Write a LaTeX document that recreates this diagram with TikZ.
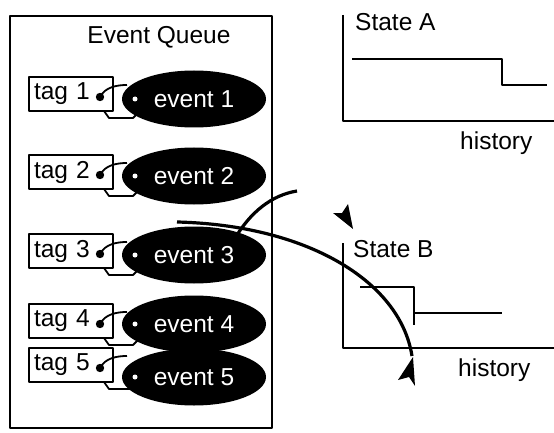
\documentclass[tikz,border=0pt]{standalone}
\usepackage{fontspec}
\setmainfont{Liberation Sans}
\usetikzlibrary{shapes.geometric,calc}
\begin{document}
\begin{tikzpicture}[x=1pt,y=-1pt,line join=round,
  every node/.style={font=\fontsize{24.5}{29}\selectfont},
  tagbox/.style={draw,line width=2pt,rectangle,minimum width=84pt,minimum height=34pt,
    text width=74pt,inner xsep=5pt,inner ysep=0pt,align=left},
  evt/.style={ellipse,fill=black,text=white,minimum width=144pt,minimum height=57pt,inner sep=0pt},
  lbl/.style={inner sep=0pt,anchor=west},
  string/.style={line width=1.8pt},
  bigarc/.style={line width=3.2pt},
  axis/.style={line width=2.4pt},
  stepline/.style={line width=2.2pt},
  frame/.style={line width=2pt},
  tip/.style={fill=black}]
\useasboundingbox (0,0) rectangle (554,433);
% event queue frame
\draw[frame] (10,16) rectangle (272,428);
\node[inner sep=0pt] (title) at (159,37) {Event Queue};
% second arc (behind ellipse 3)
\coordinate (arcBstart) at (297,191);
% rows: tag centre / ellipse centre
\foreach \i/\y/\ey in {1/94/99,2/172/176,3/251/255,4/321/324,5/365/377}{
  \node[tagbox,anchor=west] (t\i) at (28,\y) {tag \i};
  \coordinate (d\i) at (100,\y+3);
  \coordinate (p\i a) at (104,\y+17);
  \coordinate (p\i b) at (109,\y+24);
  \coordinate (p\i c) at (133,\y+24);
  \coordinate (p\i d) at (141,\y+16);
  \coordinate (q\i) at (127,\y-9);
  \coordinate (w\i) at (135,\ey);
}
\foreach \i in {1,...,5}{
  \draw[string] (d\i) .. controls ($(d\i)+(5,-10)$) and ($(q\i)+(-10,0)$) .. (q\i);
  \draw[string] (p\i a) -- (p\i b) -- (p\i c) -- (p\i d);
}
\draw[bigarc] (arcBstart) .. controls (272,195) and (250,212) .. (234,240);
\foreach \i/\ey in {1/99,2/176,3/255,4/324,5/377}{
  \node[evt] (e\i) at (194,\ey) {event \i};
}
\foreach \i in {1,...,5}{
  \fill[white] (w\i) circle (2.5);
  \fill (d\i) circle (4.2);
}
% state A
\coordinate (Atop) at (343,15);
\coordinate (Aorig) at (343,121);
\coordinate (Aend) at (554,121);
\draw[axis] (Atop) -- (Aorig) -- (Aend);
\draw[stepline] (352,59) -- (502,59) -- (502,85) -- (547,85);
\node[lbl] (stA) at (355,22) {State A};
\node[lbl] (hA) at (460,143) {history};
% state B
\coordinate (Btop) at (343,243);
\coordinate (Borig) at (343,348);
\coordinate (Bend) at (554,348);
\draw[axis] (Btop) -- (Borig) -- (Bend);
\draw[stepline] (360,287) -- (414,287) -- (414,325);
\draw[stepline] (414,313) -- (502,313);
\node[lbl] (stB) at (353,249) {State B};
\node[lbl] (hB) at (458,370) {history};
% big arc
\coordinate (arcAstart) at (177,222);
\coordinate (arcAend) at (412,356);
\draw[bigarc] (arcAstart) .. controls (305,225) and (400,280) .. (arcAend);
% arrowheads
\fill[tip] (353,229) -- (333,213) -- (342,213) -- (348,204) -- cycle;
\fill[tip] (413,357) -- (415,386) -- (409,377) -- (398,380) -- cycle;
\end{tikzpicture}
\end{document}
